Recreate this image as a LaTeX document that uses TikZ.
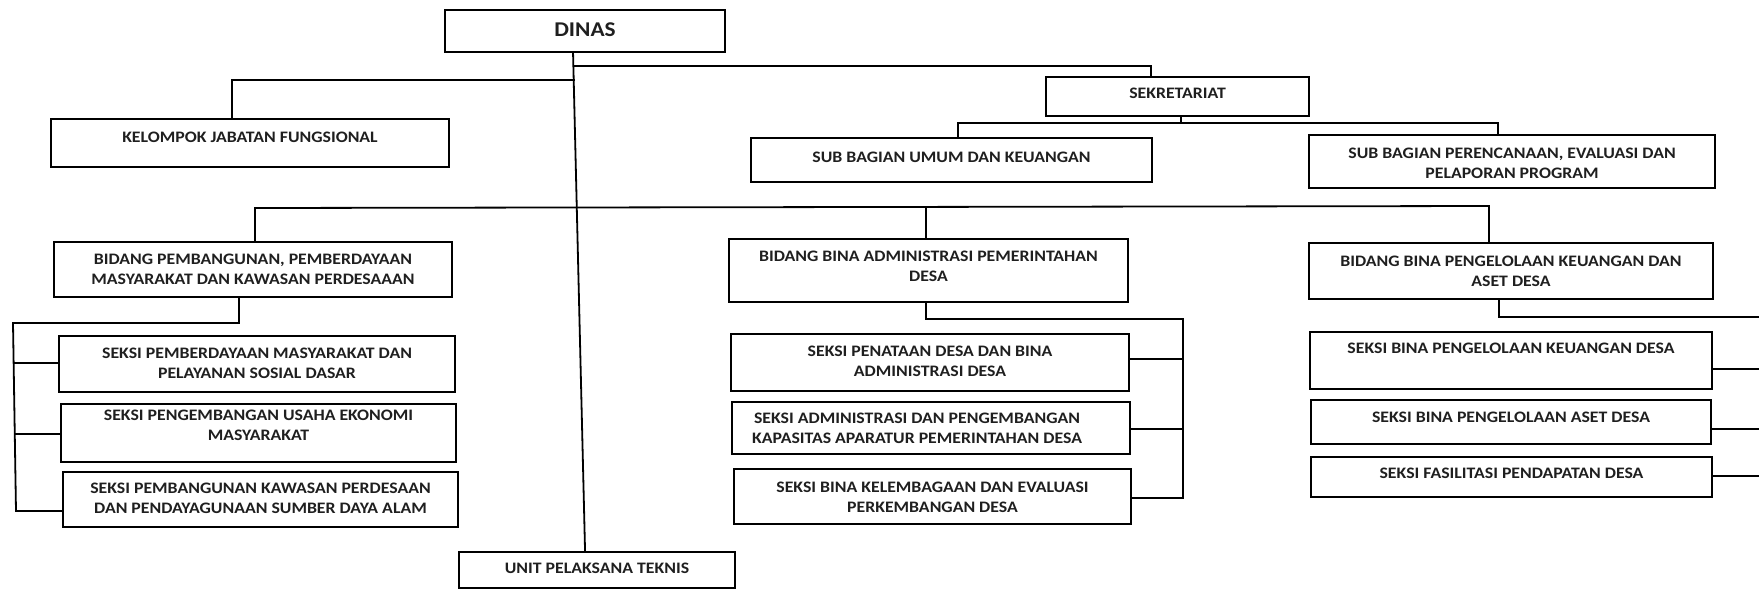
\documentclass[tikz,border=0pt]{standalone}
\usepackage{fontspec}
\setmainfont{Carlito}[FakeStretch=1.11]
\usetikzlibrary{fit,calc}
\tikzset{
  orgbox/.style={draw=black, line width=1.9pt, inner sep=0pt, rectangle},
  orgtxt/.style={inner sep=0pt, align=center, font=\fontsize{16}{20}\selectfont\bfseries, text=black!88},
  link/.style={draw=black, line width=1.8pt, line cap=rect}
}
\newcommand\bx[8][0]{%
  \pgfmathsetmacro\cxx{(#3+#5)/2+#1}%
  \node[orgbox, fit={(#3,#4) (#5,#6)}] (#2) {};
  \node[orgtxt] (#2-t) at (\cxx,#7) {#8};
}
\begin{document}
\begin{tikzpicture}[x=1pt,y=-1pt]
\useasboundingbox[fill=white] (0,0) rectangle (1759,590);

% boxes
\bx{dinas}{445}{10}{725}{52}{30}{\fontsize{21}{24}\selectfont DINAS}
\bx{kjf}{51}{119}{449}{167}{137}{KELOMPOK JABATAN FUNGSIONAL}
\bx{sek}{1046}{77}{1309}{116}{93}{SEKRETARIAT}
\bx{umum}{751}{138}{1152}{182}{157}{SUB BAGIAN UMUM DAN KEUANGAN}
\bx{peren}{1309}{135}{1715}{188}{163}{SUB BAGIAN PERENCANAAN, EVALUASI DAN\\PELAPORAN PROGRAM}
\bx{bpemb}{54}{242}{452}{297}{269}{BIDANG PEMBANGUNAN, PEMBERDAYAAN\\MASYARAKAT DAN KAWASAN PERDESAAAN}
\bx{badm}{729}{239}{1128}{302}{266.5}{BIDANG BINA ADMINISTRASI PEMERINTAHAN\\DESA}
\bx{bpeng}{1309}{243}{1713}{299}{271}{BIDANG BINA PENGELOLAAN KEUANGAN DAN\\ASET DESA}
\bx{s11}{59}{336}{455}{392}{363}{SEKSI PEMBERDAYAAN MASYARAKAT DAN\\PELAYANAN SOSIAL DASAR}
\bx{s12}{61}{404}{456}{462}{425}{SEKSI PENGEMBANGAN USAHA EKONOMI\\MASYARAKAT}
\bx{s13}{63}{472}{458}{527}{498}{SEKSI PEMBANGUNAN KAWASAN PERDESAAN\\DAN PENDAYAGUNAAN SUMBER DAYA ALAM}
\bx{s21}{731}{334}{1129}{391}{361}{SEKSI PENATAAN DESA DAN BINA\\ADMINISTRASI DESA}
\bx[-14]{s22}{732}{402}{1130}{454}{428}{SEKSI ADMINISTRASI DAN PENGEMBANGAN\\KAPASITAS APARATUR PEMERINTAHAN DESA}
\bx{s23}{734}{469}{1131}{524}{497}{SEKSI BINA KELEMBAGAAN DAN EVALUASI\\PERKEMBANGAN DESA}
\bx{s31}{1310}{332}{1712}{389}{348}{SEKSI BINA PENGELOLAAN KEUANGAN DESA}
\bx{s32}{1311}{400}{1711}{444}{417}{SEKSI BINA PENGELOLAAN ASET DESA}
\bx{s33}{1311}{457}{1712}{497}{473}{SEKSI FASILITASI PENDAPATAN DESA}
\bx{upt}{459}{552}{735}{588}{568}{UNIT PELAKSANA TEKNIS}

% main spine
\coordinate (mtop) at ($(dinas.south west)+(129,0)$);
\coordinate (mbot) at ($(upt.north west)+(127,0)$);
\draw[link] (mtop) -- (mbot);

% kelompok jabatan fungsional
\coordinate (jk) at (574.5,80);
\draw[link] (jk) -| (kjf.north -| 232,0);

% sekretariat
\coordinate (js) at (574,66);
\draw[link] (js) -| (sek.north -| 1151,0);
\coordinate (sd) at (1181,123);
\draw[link] (sek.south -| sd) -- (sd);
\coordinate (sl) at (958,123);
\coordinate (sr) at (1498,123);
\draw[link] (umum.north -| sl) -- (sl) -- (sr) -- (peren.north -| sr);

% bidang row
\coordinate (bl) at (255,208);
\coordinate (bm) at (926,207);
\coordinate (br) at (1489,206);
\draw[link] (bpemb.north -| bl) -- (bl) -- (br) -- (bpeng.north -| br);
\draw[link] (bm) -- (badm.north -| bm);

% left bracket
\coordinate (l1) at (239,323);
\coordinate (l2) at (13,323);
\coordinate (l3) at (16,511);
\draw[link] (bpemb.south -| l1) -- (l1) -- (l2) -- (l3) -- (s13.west |- l3);
\draw[link] (14,363) -- (s11.west |- 0,363);
\draw[link] (15,434) -- (s12.west |- 0,434);

% middle bracket
\coordinate (m1) at (926,319);
\coordinate (m2) at (1183,319);
\coordinate (m3) at (1183,498);
\draw[link] (badm.south -| m1) -- (m1) -- (m2) -- (m3) -- (s23.east |- m3);
\draw[link] (s21.east |- 0,359) -- (1183,359);
\draw[link] (s22.east |- 0,429) -- (1183,429);

% right bracket (continues beyond the picture edge)
\coordinate (r1) at (1499,317);
\coordinate (r2) at (1759,317);
\coordinate (e1) at (1759,369);
\coordinate (e2) at (1759,429);
\coordinate (e3) at (1759,476);
\draw[link] (bpeng.south -| r1) -- (r1) -- (r2);
\draw[link] (s31.east |- e1) -- (e1);
\draw[link] (s32.east |- e2) -- (e2);
\draw[link] (s33.east |- e3) -- (e3);
\end{tikzpicture}
\end{document}
